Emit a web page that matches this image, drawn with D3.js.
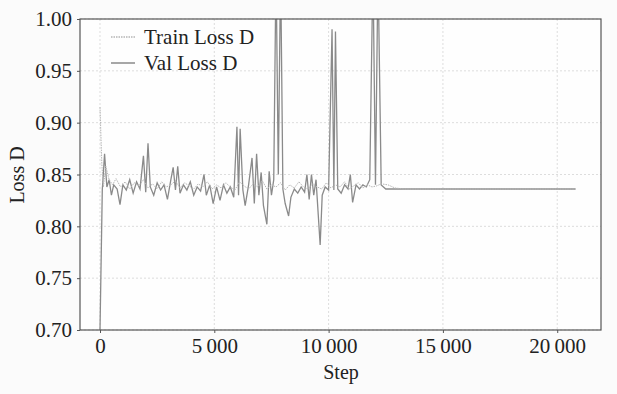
<!DOCTYPE html>
<html>
<head>
<meta charset="utf-8">
<script src="https://cdn.jsdelivr.net/npm/d3@7"></script>
<style>
  body { margin: 0; background: #fff; }
  text { font-family: "Liberation Serif", "DejaVu Serif", serif; fill: #222; }
</style>
</head>
<body>
<svg id="chart" width="617" height="394"></svg>
<script>
// val loss (solid, darker)
var valSteps = [0,100,200,300,400,500,600,750,875,1000,1150,1300,1450,1600,1750,1900,2000,2100,2200,2350,
  2500,2650,2800,2950,3100,3200,3300,3400,3500,3650,3800,3950,4100,4250,4400,4550,4650,4800,4950,5100,
  5250,5400,5550,5700,5850,5990,6060,6130,6250,6350,6500,6650,6750,6850,6950,7050,7150,7300,7400,7500,
  7600,7700,7800,7900,8000,8100,8250,8350,8500,8650,8800,8950,9050,9150,9250,9350,9450,9550,9630,9720,
  9850,10000,10150,10230,10300,10400,10550,10700,10850,10950,11050,11200,11350,11500,11650,11800,11940,12050,12160,12300,
  12500,13000,20800];
var valLoss = [0.700,0.835,0.870,0.838,0.845,0.830,0.840,0.836,0.821,0.840,0.835,0.845,0.832,0.843,0.836,0.868,0.833,0.880,0.838,0.830,
  0.842,0.835,0.840,0.826,0.845,0.857,0.835,0.858,0.832,0.840,0.835,0.843,0.830,0.838,0.834,0.850,0.830,0.840,0.822,0.838,
  0.825,0.840,0.832,0.838,0.828,0.896,0.830,0.894,0.835,0.820,0.840,0.866,0.822,0.870,0.830,0.852,0.820,0.802,0.853,0.830,
  0.845,1.050,0.850,1.050,0.836,0.822,0.810,0.828,0.836,0.832,0.838,0.833,0.850,0.826,0.850,0.830,0.845,0.810,0.782,0.830,
  0.838,0.835,0.990,0.835,0.988,0.836,0.832,0.840,0.836,0.850,0.823,0.840,0.836,0.840,0.838,0.845,1.050,0.840,1.050,0.840,
  0.836,0.836,0.836];

// train loss (dotted, lighter)
var trainSteps = [0,80,150,250,400,550,700,900,1100,1300,1500,1700,1900,2100,2300,2500,2700,2900,3100,3300,
  3500,3700,3900,4100,4300,4500,4700,4900,5100,5300,5500,5700,5900,6100,6300,6500,6700,6900,7100,7300,
  7500,7700,7900,8100,8300,8500,8700,8900,9100,9300,9500,9700,9900,10100,10300,10500,10700,10900,11100,11300,
  11500,11700,11900,12100,12300,12600,12900,13300,20800];
var trainLoss = [0.915,0.860,0.838,0.858,0.845,0.840,0.846,0.838,0.843,0.836,0.842,0.839,0.845,0.837,0.841,0.836,0.843,0.838,0.840,0.844,
  0.837,0.842,0.839,0.836,0.841,0.838,0.843,0.836,0.840,0.837,0.842,0.838,0.835,0.843,0.839,0.836,0.841,0.838,0.844,0.836,
  0.840,0.838,0.842,0.835,0.840,0.837,0.843,0.838,0.836,0.841,0.838,0.836,0.842,0.837,0.840,0.838,0.843,0.836,0.839,0.842,
  0.837,0.840,0.838,0.839,0.841,0.840,0.837,0.836,0.836];

var xTicks = [0, 5000, 10000, 15000, 20000];
var yTicks = [0.70, 0.75, 0.80, 0.85, 0.90, 0.95, 1.00];
var seriesNames = ["Train Loss D", "Val Loss D"];

var margin = {left: 80, right: 16, top: 19, bottom: 64};
var W = 617, H = 394;
var svg = d3.select("#chart");

var x = d3.scaleLinear().domain([-875, 21915]).range([margin.left, W - margin.right]);
var y = d3.scaleLinear().domain([0.70, 1.00]).range([H - margin.bottom, margin.top]);

svg.append("rect").attr("x", 0).attr("y", 0).attr("width", W).attr("height", H).attr("fill", "#fbfbfb");
svg.append("rect")
  .attr("x", margin.left).attr("y", margin.top)
  .attr("width", W - margin.left - margin.right)
  .attr("height", H - margin.top - margin.bottom)
  .attr("fill", "#fefefe");

// grid
var grid = svg.append("g");
grid.selectAll(".gx").data(xTicks).enter().append("line")
  .attr("x1", d => x(d)).attr("x2", d => x(d))
  .attr("y1", margin.top).attr("y2", H - margin.bottom)
  .attr("stroke", "#ddd").attr("stroke-dasharray", "2,2");
grid.selectAll(".gy").data(yTicks).enter().append("line")
  .attr("x1", margin.left).attr("x2", W - margin.right)
  .attr("y1", d => y(d)).attr("y2", d => y(d))
  .attr("stroke", "#ddd").attr("stroke-dasharray", "2,2");

svg.append("clipPath").attr("id", "clip").append("rect")
  .attr("x", margin.left).attr("y", margin.top)
  .attr("width", W - margin.left - margin.right)
  .attr("height", H - margin.top - margin.bottom);

var line = d3.line().x(d => x(d[0])).y(d => y(d[1]));
var trainData = trainSteps.map((s, i) => [s, trainLoss[i]]);
var valData = valSteps.map((s, i) => [s, valLoss[i]]);

var plot = svg.append("g").attr("clip-path", "url(#clip)");
plot.append("path").datum(valData).attr("d", line)
  .attr("fill", "none").attr("stroke", "#8a8a8a").attr("stroke-width", 1.3);
plot.append("path").datum(trainData).attr("d", line)
  .attr("fill", "none").attr("stroke", "#b5b5b5").attr("stroke-width", 1).attr("stroke-dasharray", "1.5,1");

// frame
svg.append("rect")
  .attr("x", margin.left).attr("y", margin.top)
  .attr("width", W - margin.left - margin.right)
  .attr("height", H - margin.top - margin.bottom)
  .attr("fill", "none").attr("stroke", "#555").attr("stroke-width", 1.2);

// axes
var fmtX = d => d === 0 ? "0" : d3.format(",")(d).replace(",", "\u2009");
var xAxis = svg.append("g").attr("transform", "translate(0," + (H - margin.bottom) + ")")
  .call(d3.axisBottom(x).tickValues(xTicks).tickSize(3).tickPadding(5).tickFormat(fmtX));
var yAxis = svg.append("g").attr("transform", "translate(" + margin.left + ",0)")
  .call(d3.axisLeft(y).tickValues(yTicks).tickSize(3).tickPadding(5).tickFormat(d3.format(".2f")));
[xAxis, yAxis].forEach(function(a){
  a.select(".domain").remove();
  a.selectAll(".tick line").attr("stroke", "#555");
  a.selectAll(".tick text").style("font-family", "Liberation Serif").style("font-size", "21px").attr("fill", "#222");
});

svg.append("text").attr("x", 341).attr("y", 379).attr("text-anchor", "middle")
  .style("font-size", "20px").text("Step");
svg.append("text").attr("transform", "translate(24,175) rotate(-90)").attr("text-anchor", "middle")
  .style("font-size", "20px").text("Loss D");

// legend
var leg = svg.append("g");
var legStyles = [{c: "#b5b5b5", dash: "1.5,1"}, {c: "#8a8a8a", dash: null}];
seriesNames.forEach(function(name, i){
  var ly = 37 + i * 26;
  leg.append("line").attr("x1", 111).attr("x2", 135).attr("y1", ly).attr("y2", ly)
    .attr("stroke", legStyles[i].c).attr("stroke-width", 1.5).attr("stroke-dasharray", legStyles[i].dash);
  leg.append("text").attr("x", 144).attr("y", ly + 7).style("font-size", "21px").text(name);
});
</script>
</body>
</html>
